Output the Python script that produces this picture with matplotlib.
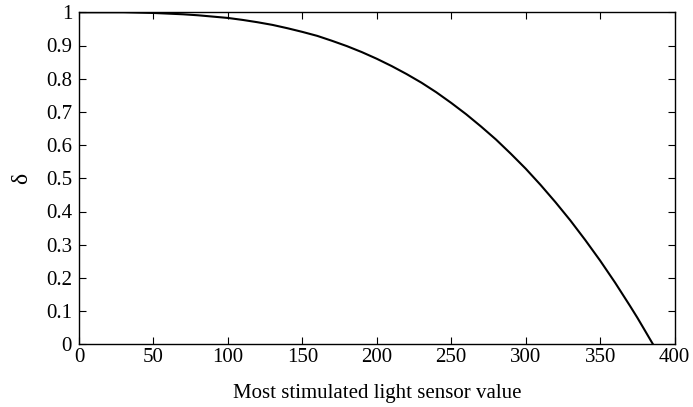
import matplotlib
matplotlib.use("Agg")
import matplotlib.pyplot as plt

sensor_value = [0, 10, 20, 30, 40, 50, 60, 70, 80, 90, 100, 110, 120, 130, 140, 150,
                160, 170, 180, 190, 200, 210, 220, 230, 240, 250, 260, 270, 280, 290,
                300, 310, 320, 330, 340, 350, 360, 365, 370, 375, 380, 383, 385.5]
delta = [1.000, 1.000, 1.000, 1.000, 0.999, 0.998, 0.996, 0.994, 0.991, 0.987, 0.983,
         0.977, 0.970, 0.962, 0.952, 0.941, 0.929, 0.914, 0.898, 0.880, 0.860, 0.838,
         0.814, 0.788, 0.759, 0.727, 0.693, 0.656, 0.617, 0.574, 0.529, 0.480, 0.428,
         0.373, 0.314, 0.252, 0.186, 0.151, 0.116, 0.080, 0.042, 0.019, 0.0]
x_ticks = [0, 50, 100, 150, 200, 250, 300, 350, 400]
y_ticks = [0, 0.1, 0.2, 0.3, 0.4, 0.5, 0.6, 0.7, 0.8, 0.9, 1]
y_tick_labels = ["0", "0.1", "0.2", "0.3", "0.4", "0.5", "0.6", "0.7", "0.8", "0.9", "1"]

plt.rcParams['font.family'] = ['Liberation Serif', 'DejaVu Serif']
fig = plt.figure(figsize=(6.93, 4.07), dpi=100)
ax = fig.add_axes([79 / 693, 1 - 344.3 / 407, 595.6 / 693, 332 / 407])
ax.plot(sensor_value, delta, color='black', linewidth=1.5)
ax.set_xlim(0, 400)
ax.set_ylim(0, 1)
ax.set_xticks(x_ticks)
ax.set_xticklabels([str(v) for v in x_ticks])
ax.set_yticks(y_ticks)
ax.set_yticklabels(y_tick_labels)
ax.tick_params(direction='in', top=True, right=True, labelsize=15, length=5, width=0.8)
ax.tick_params(axis='x', pad=3)
ax.tick_params(axis='y', pad=5)
for s in ax.spines.values():
    s.set_linewidth(1.0)
ax.set_xlabel("Most stimulated light sensor value", fontsize=15, labelpad=12)
ax.set_ylabel("δ", fontsize=17, labelpad=10)
fig.savefig("out.png", dpi=100)
